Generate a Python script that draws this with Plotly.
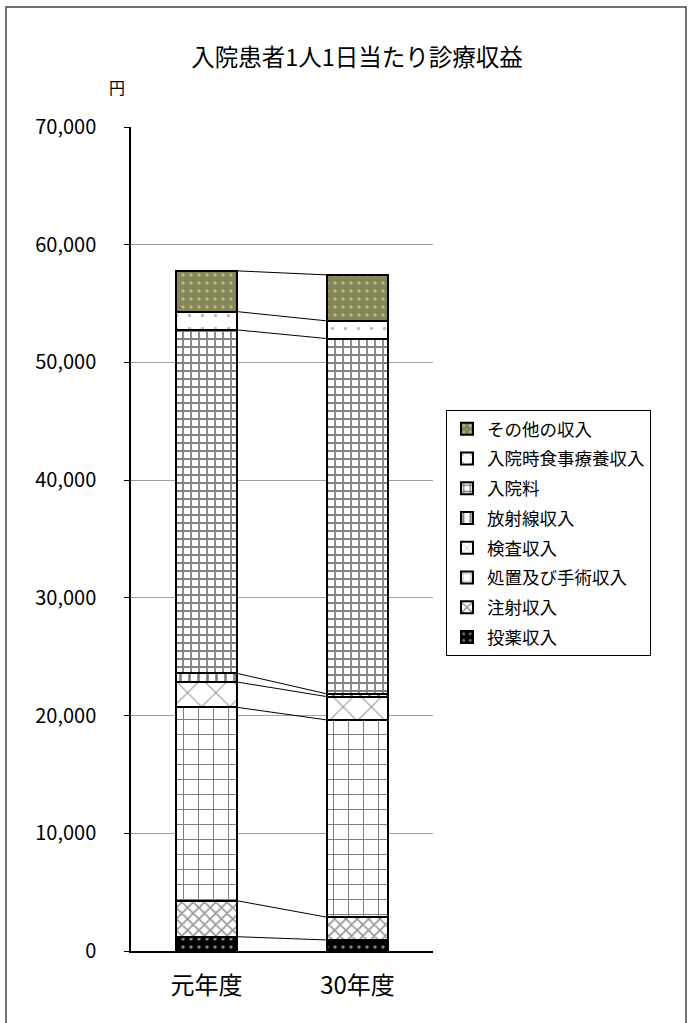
import plotly.graph_objects as go

categories = ["元年度", "30年度"]
series_names = ["投薬収入", "注射収入", "処置及び手術収入", "検査収入",
                "放射線収入", "入院料", "入院時食事療養収入", "その他の収入"]
toyaku = [1215, 935]
chusha = [3060, 1930]
shochi = [16430, 16760]
kensa = [2150, 1980]
hoshasen = [740, 230]
nyuinryo = [29170, 30190]
shokuji = [1555, 1500]
sonota = [3460, 3910]
y_ticks = [0, 10000, 20000, 30000, 40000, 50000, 60000, 70000]

series_values = [toyaku, chusha, shochi, kensa, hoshasen, nyuinryo, shokuji, sonota]

styles = [
    dict(color="black", pattern=dict(shape=".", fgcolor="white", bgcolor="black", size=8, solidity=0.15)),
    dict(color="white", pattern=dict(shape="x", fgcolor="#333333", bgcolor="white", size=8, solidity=0.4)),
    dict(color="white", pattern=dict(shape="+", fgcolor="black", bgcolor="white", size=15, solidity=0.13)),
    dict(color="white", pattern=dict(shape="x", fgcolor="#222222", bgcolor="white", size=20, solidity=0.1)),
    dict(color="white", pattern=dict(shape="|", fgcolor="black", bgcolor="white", size=9, solidity=0.3)),
    dict(color="white", pattern=dict(shape="+", fgcolor="black", bgcolor="white", size=8, solidity=0.4)),
    dict(color="white", pattern=dict(shape=".", fgcolor="#777777", bgcolor="white", size=13, solidity=0.05)),
    dict(color="#85855a", pattern=dict(shape=".", fgcolor="#f0f0b0", bgcolor="#85855a", size=8, solidity=0.15)),
]

FONT = "Noto Sans CJK JP"
xpos = list(range(len(categories)))
bar_w = 0.4
n = len(series_names)

fig = go.Figure()
for i, (name, vals, st) in enumerate(zip(series_names, series_values, styles)):
    fig.add_trace(go.Bar(
        x=xpos, y=vals, name=name, width=bar_w,
        legendgroup=f"g{i}", legendrank=n - i,
        marker=dict(color=st["color"], pattern=st["pattern"],
                    line=dict(color="black", width=2)),
    ))

# connector lines between segment tops
cum = [0] * len(categories)
for vals in series_values:
    cum = [c + v for c, v in zip(cum, vals)]
    fig.add_trace(go.Scatter(
        x=[xpos[0] + bar_w / 2, xpos[1] - bar_w / 2], y=[cum[0], cum[1]],
        mode="lines", line=dict(color="black", width=1),
        showlegend=False, hoverinfo="skip",
    ))

fig.update_layout(
    width=688, height=1023,
    margin=dict(l=131, r=255, t=127, b=72),
    barmode="stack",
    plot_bgcolor="white", paper_bgcolor="white",
    font=dict(family=FONT, color="black"),
    title=dict(text="入院患者1人1日当たり診療収益", x=0.519, xanchor="center",
               y=1 - 58 / 1023, yanchor="middle", font=dict(size=23.5, family=FONT)),
    legend=dict(x=1.043, xanchor="left", y=0.6566, yanchor="top",
                bordercolor="black", borderwidth=1, bgcolor="white",
                font=dict(size=17.5, family=FONT), traceorder="grouped",
                tracegroupgap=4, itemwidth=30),
    showlegend=True,
    xaxis=dict(range=[-0.5, 1.5], tickvals=xpos, ticktext=categories,
               showline=True, linecolor="black", linewidth=1.5,
               showgrid=False, zeroline=False, ticks="outside", ticklen=12,
               tickcolor="rgba(0,0,0,0)",
               tickfont=dict(size=24, family=FONT)),
    yaxis=dict(range=[0, 70000], tickvals=y_ticks, tickformat=",",
               showline=True, linecolor="black", linewidth=1.5,
               showgrid=True, gridcolor="#a0a0a0", gridwidth=1,
               zeroline=False, ticks="outside", ticklen=5, tickcolor="black",
               ticklabelstandoff=24,
               tickfont=dict(size=20, family=FONT)),
    annotations=[dict(text="円", xref="paper", yref="paper",
                      x=(117 - 131) / 302, y=(951 - 87) / 824,
                      xanchor="center", yanchor="middle", showarrow=False,
                      font=dict(size=16, family=FONT))],
    shapes=[dict(type="rect", xref="paper", yref="paper",
                 x0=(6 - 131) / 302, x1=(686 - 131) / 302,
                 y0=(951 - 1040) / 824, y1=(951 - 7) / 824,
                 line=dict(color="#444444", width=1.5), layer="below")],
)

fig.write_html("out.html")
